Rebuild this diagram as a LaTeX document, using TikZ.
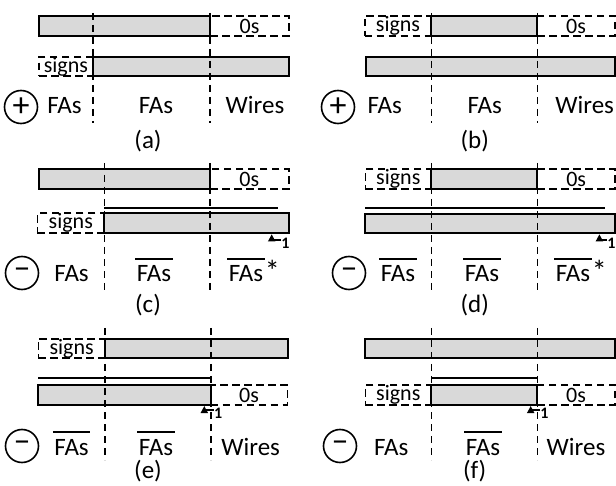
\documentclass[tikz,border=0pt]{standalone}
\usepackage{fontspec}
\setmainfont{Carlito}
\usetikzlibrary{fit,arrows.meta}
\newcommand{\ovl}[1]{\leavevmode\vbox{\hrule height 0.9pt\kern 3.2pt\hbox{\kern0.8pt#1\kern0.8pt}}}

\begin{document}
\begin{tikzpicture}[
    x=0.5pt, y=-0.5pt,
    bar/.style={draw, line width=1pt, fill=gray!30, inner sep=0pt},
    zbox/.style={draw, line width=0.8pt, dash pattern=on 3.8pt off 2.2pt, inner sep=0pt},
    ztext/.style={inner sep=0pt, font=\fontsize{11}{12}\selectfont},
    divider/.style={line width=0.8pt, dash pattern=on 3.5pt off 2.5pt},
    inv/.style={line width=1pt},
    lbl/.style={anchor=base, inner sep=0pt, font=\fontsize{12.5}{15}\selectfont},
    op/.style={draw, circle, line width=0.8pt, minimum size=16.5pt, inner sep=0pt, font=\fontsize{17}{17}\selectfont},
    one/.style={inner sep=0pt, font=\fontsize{8}{9}\selectfont\bfseries},
    carry/.style={-{Triangle[length=3.5pt,width=3.5pt]}, line width=0.8pt}
]
    \useasboundingbox (0,0) rectangle (616,486);

    % (a)
    \node[zbox, fit={(210,16) (289,36)}, label={[ztext]center:0s}] (a0) {};
    \node[bar, fit={(39,16) (210,36)}] (a1) {};
    \node[zbox, fit={(39,57) (92.7,76)}, label={[ztext]center:signs}] (as) {};
    \node[bar, fit={(92.7,57) (289,76)}] (a2) {};
    \draw[divider] (92.7,13) -- (92.7,123);
    \draw[divider] (210,13) -- (210,123);
    \node[op] (aop) at (21,107) {+};
    \node[lbl] (afa) at (64.5,114) {FAs};
    \node[lbl] (afb) at (156,114) {FAs};
    \node[lbl] (aw) at (255,114) {Wires};
    \node[lbl] (acap) at (148,149) {(a)};

    % (b)
    \node[zbox, fit={(364.7,16) (431.3,36)}, label={[ztext]center:signs}] (bs) {};
    \node[zbox, fit={(537.3,16) (614.7,36)}, label={[ztext]center:0s}] (b0) {};
    \node[bar, fit={(431.3,16) (537.3,36)}] (b1) {};
    \node[bar, fit={(366,57) (614.7,76)}] (b2) {};
    \draw[divider] (431.3,13) -- (431.3,123);
    \draw[divider] (537.3,13) -- (537.3,123);
    \node[op] (bop) at (338,107) {+};
    \node[lbl] (bfa) at (384.7,114) {FAs};
    \node[lbl] (bfb) at (484.7,114) {FAs};
    \node[lbl] (bw) at (584.7,114) {Wires};
    \node[lbl] (bcap) at (474.7,149) {(b)};

    % (c)
    \node[zbox, fit={(210,169.3) (288.7,189.3)}, label={[ztext]center:0s}] (c0) {};
    \node[bar, fit={(39,169.3) (210,189.3)}] (c1) {};
    \node[zbox, fit={(37.3,213.3) (104.3,233.3)}, label={[ztext]center:signs}] (cs) {};
    \node[bar, fit={(104.3,213.3) (288.7,233.3)}] (c2) {};
    \draw[inv] (104.3,207.7) -- (277.7,207.7);
    \draw[divider] (104.3,163) -- (104.3,290);
    \draw[divider] (210,163) -- (210,290);
    \node[op] (cop) at (22,273) {–};
    \node[lbl] (cfa) at (71.6,282) {FAs};
    \node[lbl] (cfb) at (154,282) {\ovl{FAs}};
    \node[lbl] (cfc) at (253.5,282) {\ovl{FAs}{\fontsize{15}{15}\selectfont*}};
    \node[lbl] (ccap) at (148,313) {(c)};
    \node[one] (cone) at (285.5,243) {1};
    \draw[carry] ([yshift=1.5pt]cone.west) -| ([xshift=-9pt]c2.south east);

    % (d)
    \node[zbox, fit={(365.3,169.3) (431.3,189.3)}, label={[ztext]center:signs}] (ds) {};
    \node[zbox, fit={(537.3,169.3) (615,189.3)}, label={[ztext]center:0s}] (d0) {};
    \node[bar, fit={(431.3,169.3) (537.3,189.3)}] (d1) {};
    \node[bar, fit={(365.3,214) (615,233.3)}] (d2) {};
    \draw[inv] (365.3,207.7) -- (604.7,207.7);
    \draw[divider] (431.3,163) -- (431.3,290);
    \draw[divider] (537.3,163) -- (537.3,290);
    \node[op] (dop) at (349,273) {–};
    \node[lbl] (dfa) at (398,282) {\ovl{FAs}};
    \node[lbl] (dfb) at (482,282) {\ovl{FAs}};
    \node[lbl] (dfc) at (580.5,282) {\ovl{FAs}{\fontsize{15}{15}\selectfont*}};
    \node[lbl] (dcap) at (474.7,313) {(d)};
    \node[one] (done) at (611.5,243) {1};
    \draw[carry] ([yshift=1.5pt]done.west) -| ([xshift=-8.3pt]d2.south east);

    % (e)
    \node[zbox, fit={(38.3,339) (105,358.3)}, label={[ztext]center:signs}] (es) {};
    \node[bar, fit={(105,339) (288.3,358.3)}] (e1) {};
    \node[zbox, fit={(210.7,385) (287.3,405)}, label={[ztext]center:0s}] (e0) {};
    \node[bar, fit={(38.3,385) (210.7,405)}] (e2) {};
    \draw[inv] (38.3,378.3) -- (210.7,378.3);
    \draw[divider] (105,328) -- (105,460);
    \draw[divider] (210.7,328) -- (210.7,460);
    \node[op] (eop) at (22,446) {–};
    \node[lbl] (efa) at (71.6,455) {\ovl{FAs}};
    \node[lbl] (efb) at (156,455) {\ovl{FAs}};
    \node[lbl] (ew) at (250.7,455) {Wires};
    \node[lbl] (ecap) at (148,478) {(e)};
    \node[one] (eone) at (218.3,413) {1};
    \draw[carry] ([yshift=1.5pt]eone.west) -| ([xshift=-3.7pt]e2.south east);

    % (f)
    \node[bar, fit={(365.3,339) (614.7,358.3)}] (f1) {};
    \node[zbox, fit={(365.3,385) (431.3,405)}, label={[ztext]center:signs}] (fs) {};
    \node[zbox, fit={(537.3,385) (614.7,405)}, label={[ztext]center:0s}] (f0) {};
    \node[bar, fit={(431.3,385) (537.3,405)}] (f2) {};
    \draw[inv] (431.3,378.3) -- (537.3,378.3);
    \draw[divider] (431.3,328) -- (431.3,460);
    \draw[divider] (537.3,328) -- (537.3,460);
    \node[op] (fop) at (340,446) {–};
    \node[lbl] (ffa) at (391.3,455) {FAs};
    \node[lbl] (ffb) at (483,455) {\ovl{FAs}};
    \node[lbl] (fw) at (576,455) {Wires};
    \node[lbl] (fcap) at (474.7,478) {(f)};
    \node[one] (fone) at (544.5,413) {1};
    \draw[carry] ([yshift=1.5pt]fone.west) -| ([xshift=-3.8pt]f2.south east);
\end{tikzpicture}
\end{document}
